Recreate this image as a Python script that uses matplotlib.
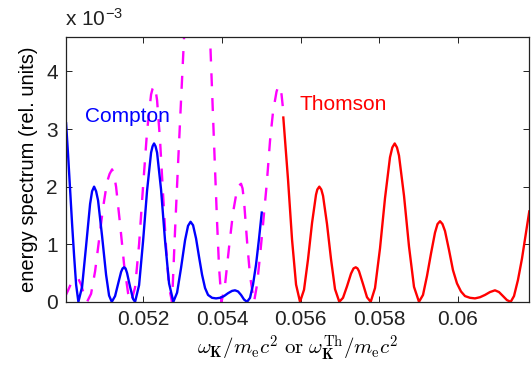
import matplotlib
matplotlib.use('Agg')
import matplotlib.pyplot as plt

plt.rcParams['font.family'] = ['Liberation Sans', 'DejaVu Sans']
plt.rcParams['mathtext.fontset'] = 'cm'

# spectra, y in units of 1e-3
compton_x = [0.050033, 0.050084, 0.050135, 0.050186, 0.050237, 0.050288, 0.050346,
             0.050440, 0.050542, 0.050644, 0.050695, 0.050746, 0.050797, 0.050847,
             0.050949, 0.051051, 0.051127, 0.051196, 0.051280, 0.051356, 0.051433,
             0.051471, 0.051509, 0.051547, 0.051585, 0.051662, 0.051738, 0.051789,
             0.051891, 0.051992, 0.052094, 0.052196, 0.052234, 0.052272, 0.052310,
             0.052349, 0.052450, 0.052552, 0.052654, 0.052763, 0.052858, 0.052959,
             0.053061, 0.053137, 0.053201, 0.053265, 0.053341, 0.053417, 0.053494,
             0.053570, 0.053646, 0.053748, 0.053850, 0.053952, 0.054053, 0.054155,
             0.054257, 0.054333, 0.054410, 0.054486, 0.054562, 0.054639, 0.054715,
             0.054791, 0.054868, 0.054944, 0.055013]
compton_y = [3.10, 2.55, 1.95, 1.35, 0.80, 0.30, 0.00,
             0.26, 0.97, 1.70, 1.92, 2.00, 1.92, 1.76,
             1.14, 0.47, 0.11, 0.00, 0.10, 0.31, 0.52,
             0.58, 0.60, 0.58, 0.50, 0.26, 0.05, 0.00,
             0.29, 1.05, 1.93, 2.59, 2.70, 2.75, 2.70,
             2.59, 1.95, 1.06, 0.32, 0.00, 0.16, 0.59,
             1.07, 1.32, 1.39, 1.33, 1.10, 0.78, 0.47,
             0.24, 0.12, 0.07, 0.06, 0.07, 0.10, 0.15,
             0.19, 0.20, 0.18, 0.12, 0.04, 0.00, 0.07,
             0.30, 0.65, 1.10, 1.55]

thomson_x = [0.055562, 0.055682, 0.055784, 0.055886, 0.055987, 0.056089, 0.056191,
             0.056293, 0.056394, 0.056427, 0.056478, 0.056529, 0.056573, 0.056674,
             0.056776, 0.056878, 0.056987, 0.057081, 0.057183, 0.057285, 0.057349,
             0.057405, 0.057450, 0.057489, 0.057590, 0.057692, 0.057786, 0.057896,
             0.058023, 0.058150, 0.058277, 0.058336, 0.058397, 0.058455, 0.058506,
             0.058634, 0.058761, 0.058888, 0.059015, 0.059117, 0.059219, 0.059321,
             0.059422, 0.059486, 0.059550, 0.059613, 0.059677, 0.059779, 0.059880,
             0.059982, 0.060084, 0.060186, 0.060313, 0.060440, 0.060567, 0.060695,
             0.060822, 0.060949, 0.061051, 0.061153, 0.061254, 0.061349, 0.061433,
             0.061534, 0.061636, 0.061738, 0.061822]
thomson_y = [3.20, 2.12, 1.08, 0.30, 0.00, 0.21, 0.74,
             1.37, 1.86, 1.95, 2.00, 1.95, 1.84, 1.35,
             0.74, 0.22, 0.00, 0.07, 0.27, 0.49, 0.58,
             0.60, 0.58, 0.53, 0.31, 0.08, 0.00, 0.24,
             0.93, 1.80, 2.51, 2.68, 2.75, 2.68, 2.54,
             1.84, 0.96, 0.26, 0.00, 0.12, 0.45, 0.84,
             1.20, 1.35, 1.40, 1.35, 1.23, 0.90, 0.55,
             0.32, 0.18, 0.10, 0.07, 0.06, 0.08, 0.12,
             0.17, 0.20, 0.17, 0.10, 0.03, 0.00, 0.10,
             0.38, 0.75, 1.20, 1.57]

dashed_x = [0.050008, 0.050084, 0.050160, 0.050262, 0.050338, 0.050415, 0.050491,
            0.050567, 0.050669, 0.050771, 0.050873, 0.050975, 0.051076, 0.051140,
            0.051204, 0.051254, 0.051305, 0.051407, 0.051509, 0.051611, 0.051687,
            0.051789, 0.051891, 0.051992, 0.052094, 0.052196, 0.052234, 0.052272,
            0.052310, 0.052349, 0.052425, 0.052501, 0.052578, 0.052654, 0.052730,
            0.052807, 0.052883, 0.052959, 0.053036, 0.053137, 0.053239, 0.053366,
            0.053494, 0.053595, 0.053697, 0.053774, 0.053824, 0.053875, 0.053926,
            0.053990, 0.054079, 0.054181, 0.054282, 0.054384, 0.054435, 0.054486,
            0.054524, 0.054562, 0.054639, 0.054715, 0.054817, 0.054893, 0.054969,
            0.055046, 0.055140, 0.055224, 0.055300, 0.055389, 0.055428, 0.055466,
            0.055517, 0.055562]
dashed_y = [0.09, 0.20, 0.32, 0.40, 0.41, 0.30, 0.12,
            0.00, 0.14, 0.53, 1.08, 1.64, 2.08, 2.22,
            2.30, 2.20, 2.00, 1.35, 0.65, 0.15, 0.00,
            0.25, 1.00, 2.00, 2.96, 3.60, 3.70, 3.75,
            3.68, 3.50, 2.80, 1.87, 0.94, 0.25, 0.00,
            1.25, 2.40, 3.50, 4.60, 5.80, 6.60, 7.00,
            6.60, 5.80, 4.60, 3.20, 2.30, 1.40, 0.60,
            0.00, 0.30, 0.95, 1.55, 1.95, 2.02, 2.05,
            1.97, 1.75, 1.05, 0.45, 0.00, 0.30, 0.80,
            1.35, 2.05, 2.80, 3.30, 3.65, 3.73, 3.75,
            3.60, 3.30]

xticks = [0.052, 0.054, 0.056, 0.058, 0.060]
xticklabels = ['0.052', '0.054', '0.056', '0.058', '0.06']
yticks = [0, 1, 2, 3, 4]

fig = plt.figure(figsize=(5.32, 3.69), dpi=100)
ax = fig.add_axes([0.124, 0.182, 0.870, 0.718])

ax.plot(dashed_x, dashed_y, color='#ff00ff', lw=1.7, dashes=(5.5, 5.0))
ax.plot(compton_x, compton_y, color='#0000ff', lw=1.7)
ax.plot(thomson_x, thomson_y, color='#ff0000', lw=1.7)

ax.set_xlim(0.05003, 0.06181)
ax.set_ylim(0, 4.6)
ax.set_xticks(xticks)
ax.set_xticklabels(xticklabels)
ax.set_yticks(yticks)
ax.tick_params(direction='in', top=True, right=True, length=4, width=0.7,
               labelsize=15, colors='#222222', pad=6)
for s in ax.spines.values():
    s.set_linewidth(0.9)
    s.set_color('#222222')

ax.text(0.05052, 3.21, 'Compton', color='#0000ff', fontsize=15, va='center')
ax.text(0.05598, 3.43, 'Thomson', color='#ff0000', fontsize=15, va='center')

ax.set_ylabel('energy spectrum (rel. units)', fontsize=14.5, labelpad=6)
ax.set_xlabel(r'$\omega_{\mathbf{K}}/m_{\mathrm{e}}c^2\ \mathrm{or}\ \omega_{\mathbf{K}}^{\mathrm{Th}}/m_{\mathrm{e}}c^2$',
              fontsize=15, labelpad=3)

fig.text(0.122, 0.927, r'x 10$^{\mathregular{-3}}$', fontsize=15, color='#222222')

fig.savefig('out.png', dpi=100)
